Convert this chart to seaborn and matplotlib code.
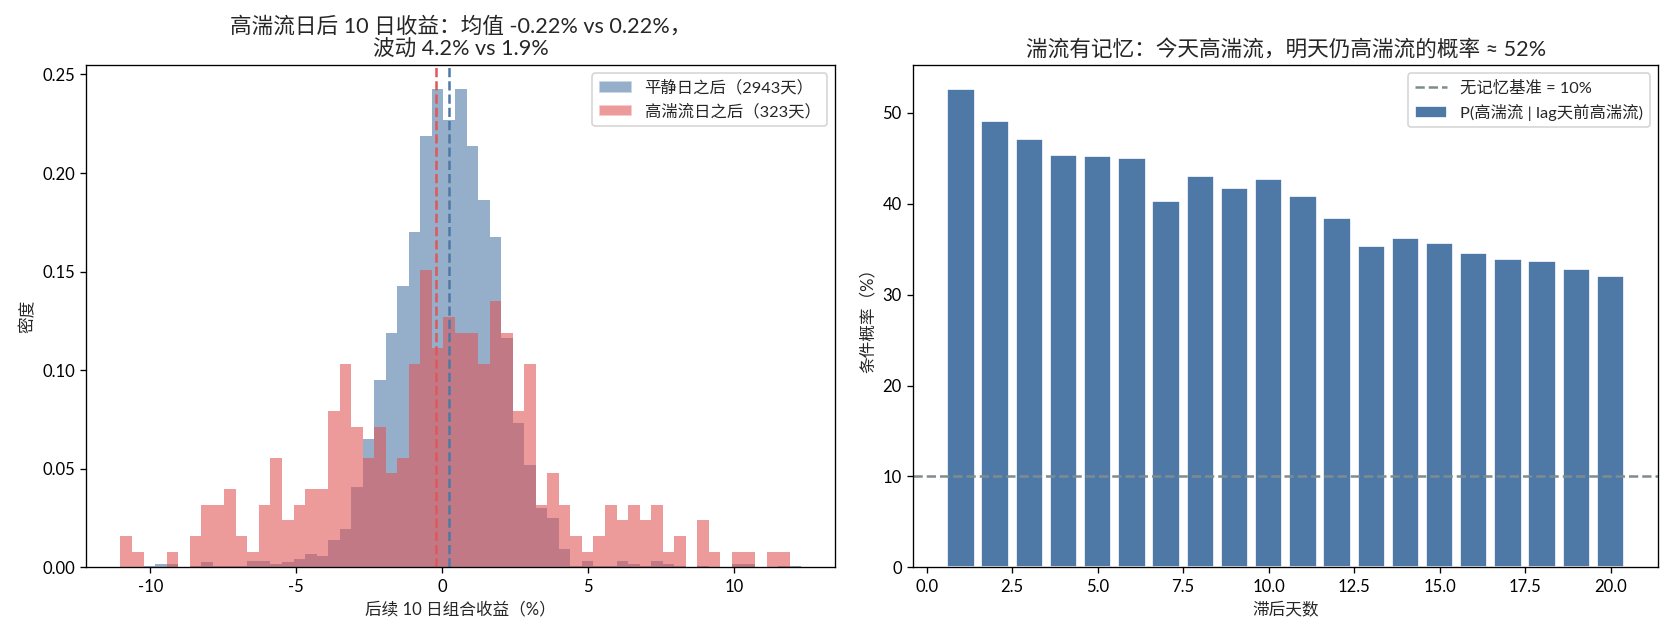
import numpy as np
import pandas as pd
import matplotlib
matplotlib.use("Agg")
import matplotlib.pyplot as plt
from matplotlib.patches import Patch
import seaborn as sns

# ---------------- data ----------------
# common histogram bins (59 bins spanning the pooled range)
bin_lo, bin_hi, n_bins = -11.02, 12.29, 59

# counts per bin, calm days (blue) and high-turbulence days (red)
calm_counts = [0, 0, 1, 2, 2, 0, 1, 3, 1, 1,
               1, 4, 4, 2, 3, 5, 8, 7, 16, 23,
               48, 76, 111, 139, 167, 199, 256, 284, 266, 284,
               250, 218, 196, 136, 86, 61, 35, 29, 11, 1,
               4, 1, 1, 4, 2, 1, 4, 2, 1, 0,
               1, 0, 0, 2, 2, 0, 0, 1, 1]
turb_counts = [2, 1, 0, 0, 1, 0, 2, 4, 4, 5,
               2, 1, 4, 7, 3, 4, 5, 5, 10, 13,
               9, 7, 9, 6, 7, 13, 19, 14, 16, 15,
               15, 13, 17, 15, 10, 13, 4, 6, 4, 2,
               1, 2, 4, 3, 4, 3, 4, 1, 2, 0,
               3, 1, 0, 1, 1, 0, 1, 1, 0]
calm_mean, turb_mean = 0.22, -0.22
calm_label = "平静日之后（2943天）"
turb_label = "高湍流日之后（323天）"

lags = list(range(1, 21))
cond_prob = [52.6, 49.1, 47.1, 45.4, 45.2, 45.0, 40.3, 43.0, 41.7, 42.7,
             40.8, 38.4, 35.4, 36.2, 35.7, 34.6, 33.9, 33.7, 32.8, 32.1]
baseline = 10.0

BLUE = "#4E79A7"
RED = "#E15759"
GRAY = "#7F8C8D"

sns.set_style("ticks")
plt.rcParams["font.family"] = ["Lato", "Noto Sans CJK SC", "DejaVu Sans"]
plt.rcParams["axes.unicode_minus"] = False
plt.rcParams["axes.edgecolor"] = "black"
plt.rcParams["axes.linewidth"] = 0.8
plt.rcParams["xtick.color"] = "black"
plt.rcParams["ytick.color"] = "black"
plt.rcParams["xtick.major.width"] = 0.8
plt.rcParams["ytick.major.width"] = 0.8

DPI = 120
fig = plt.figure(figsize=(1675 / DPI, 636 / DPI), dpi=DPI)
ax1 = fig.add_axes([0.0516, 0.108, 0.4470, 0.7893])
ax2 = fig.add_axes([0.5453, 0.108, 0.4446, 0.7893])

edges = np.linspace(bin_lo, bin_hi, n_bins + 1)
centers = (edges[:-1] + edges[1:]) / 2
bin_list = [float(e) for e in edges]

sns.histplot(x=centers, weights=np.asarray(calm_counts, dtype=float), bins=bin_list,
             stat="density", color=BLUE, alpha=0.6, linewidth=0, ax=ax1)
sns.histplot(x=centers, weights=np.asarray(turb_counts, dtype=float), bins=bin_list,
             stat="density", color=RED, alpha=0.6, linewidth=0, ax=ax1)
ax1.axvline(turb_mean, color=RED, ls="--", lw=1.5)
ax1.axvline(calm_mean, color=BLUE, ls="--", lw=1.5)
ax1.set_xlabel("后续 10 日组合收益（%）", fontsize=10)
ax1.set_ylabel("密度", fontsize=10)
ax1.set_title("高湍流日后 10 日收益：均值 -0.22% vs 0.22%，\n波动 4.2% vs 1.9%",
              fontsize=13, linespacing=1.15)
ax1.legend(handles=[Patch(facecolor=BLUE, alpha=0.6, label=calm_label),
                    Patch(facecolor=RED, alpha=0.6, label=turb_label)],
           loc="upper right", fontsize=9.8)
ax1.tick_params(labelsize=10)

bar_df = pd.DataFrame({"lag": lags, "prob": cond_prob})
ax2.axhline(baseline, color=GRAY, ls="--", lw=1.5, label="无记忆基准 = 10%")
sns.barplot(data=bar_df, x="lag", y="prob", native_scale=True, color=BLUE,
            saturation=1, width=0.8, label="P(高湍流 | lag天前高湍流)", ax=ax2)
ax2.set_xlim(-0.39, 21.39)
ax2.set_ylim(0, max(cond_prob) * 1.05)
ax2.set_xlabel("滞后天数", fontsize=10)
ax2.set_ylabel("条件概率（%）", fontsize=10)
ax2.set_title("湍流有记忆：今天高湍流，明天仍高湍流的概率 ≈ 52%", fontsize=13)
ax2.legend(loc="upper right", fontsize=9.8)
ax2.tick_params(labelsize=10)

for ax in (ax1, ax2):
    for s in ax.spines.values():
        s.set_visible(True)

fig.savefig("out.png", dpi=DPI)
